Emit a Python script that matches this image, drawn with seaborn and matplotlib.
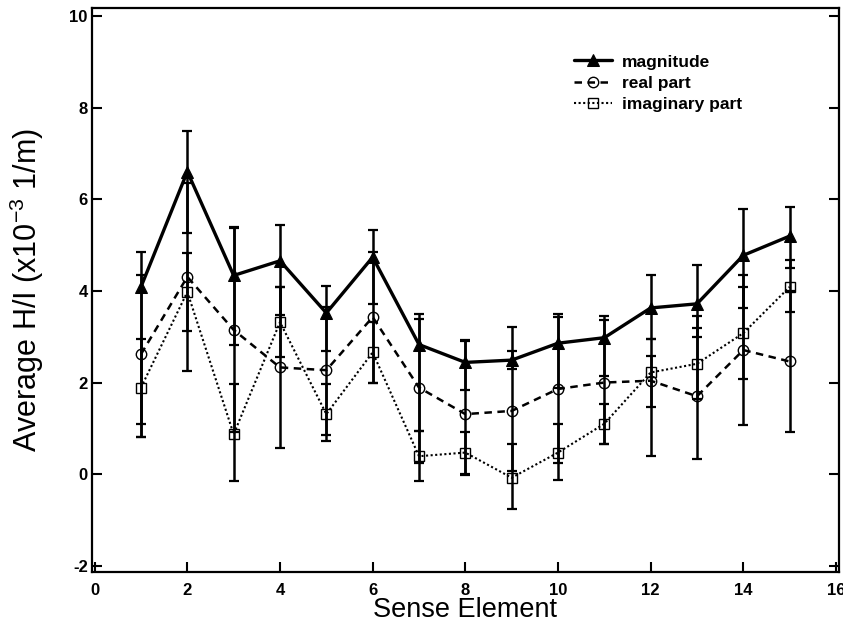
import matplotlib
matplotlib.use("Agg")
import matplotlib.pyplot as plt
import seaborn as sns

# ---- data ----
sense_element = [1, 2, 3, 4, 5, 6, 7, 8, 9, 10, 11, 12, 13, 14, 15]

magnitude = [4.09, 6.61, 4.34, 4.66, 3.52, 4.74, 2.83, 2.44, 2.49, 2.86, 2.98, 3.63, 3.72, 4.78, 5.20]
magnitude_lo = [1.10, 5.26, 2.81, 3.48, 2.70, 3.71, 0.94, 1.84, 2.30, 1.89, 2.15, 2.95, 2.99, 3.63, 4.50]
magnitude_hi = [4.85, 7.49, 5.40, 5.44, 4.11, 5.34, 3.50, 2.92, 3.22, 3.50, 3.46, 4.36, 4.56, 5.80, 5.84]

real_part = [2.62, 4.31, 3.15, 2.33, 2.27, 3.43, 1.89, 1.31, 1.38, 1.86, 2.00, 2.04, 1.70, 2.71, 2.46]
real_lo = [0.81, 2.26, 0.92, 0.58, 0.85, 2.00, 0.25, -0.01, 0.06, 0.25, 0.66, 0.39, 0.32, 1.07, 0.93]
real_hi = [4.36, 6.36, 5.38, 4.09, 3.65, 4.85, 3.39, 2.90, 2.70, 3.44, 3.36, 2.59, 3.19, 4.34, 4.00]

imag_part = [1.89, 3.98, 0.87, 3.32, 1.31, 2.66, 0.39, 0.47, -0.08, 0.47, 1.10, 2.22, 2.41, 3.08, 4.09]
imag_lo = [0.81, 3.12, -0.15, 2.55, 0.72, 2.00, -0.15, 0.00, -0.77, -0.12, 0.66, 1.47, 1.65, 2.08, 3.54]
imag_hi = [2.95, 4.82, 1.97, 4.09, 1.97, 3.32, 0.94, 0.93, 0.65, 1.09, 1.54, 2.95, 3.46, 4.09, 4.67]

x_ticks = [0, 2, 4, 6, 8, 10, 12, 14, 16]
y_ticks = [-2, 0, 2, 4, 6, 8, 10]

series_names = ["magnitude", "real part", "imaginary part"]
x_label = "Sense Element"
y_label = r"Average H/I (x10$^{\mathregular{-3}}$ 1/m)"

# ---- style ----
sns.set_theme(style="ticks")
plt.rcParams["font.family"] = ["Liberation Sans", "DejaVu Sans"]
plt.rcParams["mathtext.fontset"] = "custom"
plt.rcParams["mathtext.rm"] = "Liberation Sans"
plt.rcParams["axes.unicode_minus"] = False
for key in ["text.color", "axes.labelcolor", "xtick.color", "ytick.color",
            "xtick.labelcolor", "ytick.labelcolor", "axes.edgecolor"]:
    plt.rcParams[key] = "black"

fig = plt.figure(figsize=(8.43, 6.29), dpi=100)
ax = fig.add_axes([0.109, 0.0906, 0.886, 0.8964])

# error bars
for vals, lo, hi in [(magnitude, magnitude_lo, magnitude_hi),
                     (real_part, real_lo, real_hi),
                     (imag_part, imag_lo, imag_hi)]:
    yerr = [[v - l for v, l in zip(vals, lo)], [h - v for v, h in zip(vals, hi)]]
    ax.errorbar(sense_element, vals, yerr=yerr, fmt="none", ecolor="black",
                elinewidth=1.8, capsize=3.8, capthick=1.6, zorder=2)

sns.lineplot(x=sense_element, y=magnitude, ax=ax, color="black", lw=2.4,
             marker="^", markersize=8, markerfacecolor="black", markeredgecolor="black",
             label=series_names[0], zorder=4)
sns.lineplot(x=sense_element, y=real_part, ax=ax, color="black", lw=1.8,
             linestyle=(0, (3, 2.2)), marker="o", markersize=7.5,
             markerfacecolor="none", markeredgecolor="black", markeredgewidth=1.0,
             label=series_names[1], zorder=3)
sns.lineplot(x=sense_element, y=imag_part, ax=ax, color="black", lw=1.5,
             linestyle=(0, (1, 1.2)), marker="s", markersize=7.5,
             markerfacecolor="none", markeredgecolor="black", markeredgewidth=1.0,
             label=series_names[2], zorder=3)

ax.set_xlim(-0.06, 16.06)
ax.set_ylim(-2.14, 10.18)
ax.set_xticks(x_ticks)
ax.set_yticks(y_ticks)
ax.tick_params(axis="both", direction="in", length=7, width=1.5, labelsize=12,
               colors="black", right=True, top=False)
ax.tick_params(axis="x", pad=8)
ax.tick_params(axis="y", pad=3)
for lab in ax.get_xticklabels() + ax.get_yticklabels():
    lab.set_fontweight("bold")

for sp in ax.spines.values():
    sp.set_linewidth(1.6)
    sp.set_color("black")
    sp.set_visible(True)

ax.set_xlabel(x_label, fontsize=19.5, color="black")
ax.set_ylabel(y_label, fontsize=22, color="black")
ax.xaxis.set_label_coords(0.5, -0.045)
ax.yaxis.set_label_coords(-0.062, 0.5)

handles, labels = ax.get_legend_handles_labels()
ax.legend(handles, labels, loc="upper left", bbox_to_anchor=(0.645, 0.918),
          frameon=False, prop={"weight": "bold", "size": 12.5},
          handlelength=2.2, handletextpad=0.6, labelspacing=0.35,
          borderpad=0, borderaxespad=0)

fig.savefig("out.png", dpi=100)
